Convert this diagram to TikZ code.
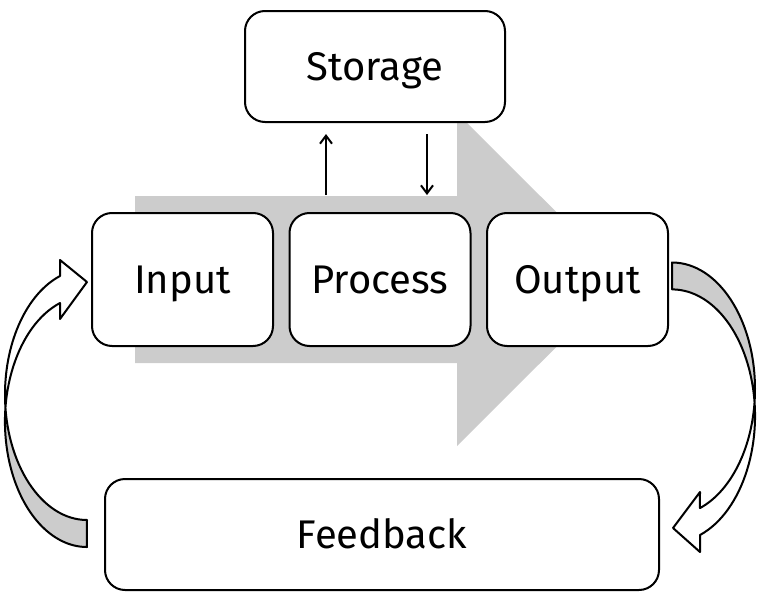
\documentclass[tikz,border=0pt]{standalone}
\usepackage{fontspec}
\setmainfont{Fira Sans}
\usepackage{tikz}
\usetikzlibrary{arrows.meta}
\definecolor{arrowgray}{RGB}{204,204,204}
\tikzset{
  box/.style={draw, line width=1pt, rounded corners=10pt, fill=white, font=\fontsize{20}{24}\selectfont, text height=14pt, text depth=0pt},
  loop arrow/.style={draw, line width=1pt, line join=round},
}

\begin{document}
\begin{tikzpicture}[x=0.5pt,y=-0.5pt,>={Straight Barb[length=4pt,width=6pt]}]
    \useasboundingbox (0,0) rectangle (762,595);
    \fill[arrowgray] (135,196) -- (457,196) -- (457,113) -- (624,279.5) -- (457,446) -- (457,363) -- (135,363) -- cycle;
    \node[box, minimum width=130pt, minimum height=55.5pt] (storage) at (375,66.5) {Storage};
    \foreach \n/\t/\x in {input/Input/182.5,process/Process/380,output/Output/577.5}{
    \node[box, minimum width=90.5pt, minimum height=66.5pt] (\n) at (\x,279.5) {\t};
    }
    \node[box, minimum width=277pt, minimum height=55.5pt] (feedback) at (382,534.5) {Feedback};
    \coordinate (up) at ([xshift=-27pt]process.north);
    \coordinate (down) at ([xshift=23.5pt]process.north);
    \draw[->, line width=1pt, shorten <=8.5pt, shorten >=5.5pt] (up) -- (up |- storage.south);
    \draw[->, line width=1pt, shorten <=5.5pt, shorten >=8.5pt] (down |- storage.south) -- (down);
    % feedback back to input
    \begin{scope}
    \clip (0,408) rectangle (100,595);
    \fill[arrowgray] (87,520) arc[start angle=90,end angle=250.8,x radius=82,y radius=125.5] -- (60,303) arc[start angle=250.8,end angle=90,x radius=82,y radius=125.5] -- cycle;
    \end{scope}
    \draw[loop arrow] (87,520) arc[start angle=90,end angle=250.8,x radius=82,y radius=125.5] -- (60,260) -- (87,282) -- (60,319) -- (60,303) arc[start angle=250.8,end angle=90,x radius=82,y radius=125.5] -- cycle;
    % output to feedback
    \begin{scope}
    \clip (660,250) rectangle (762,402);
    \fill[arrowgray] (672,262.5) arc[start angle=-90,end angle=70.3,x radius=83,y radius=126.5] -- (700,535) arc[start angle=70.3,end angle=-90,x radius=83,y radius=126.5] -- cycle;
    \end{scope}
    \draw[loop arrow] (672,262.5) arc[start angle=-90,end angle=70.3,x radius=83,y radius=126.5] -- (700,492) -- (673,528) -- (700,552) -- (700,535) arc[start angle=70.3,end angle=-90,x radius=83,y radius=126.5] -- cycle;
\end{tikzpicture}
\end{document}
